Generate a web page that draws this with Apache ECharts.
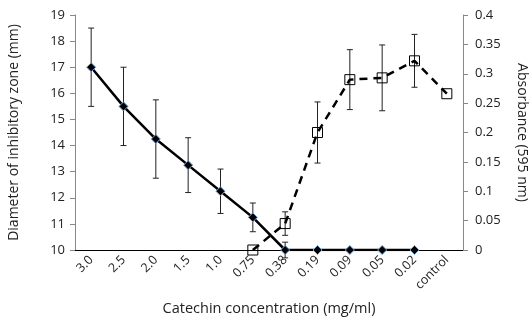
<!DOCTYPE html>
<html><head><meta charset="utf-8">
<script src="https://cdn.jsdelivr.net/npm/echarts@6/dist/echarts.min.js"></script>
<style>html,body{margin:0;padding:0;background:#fff}#c{width:532px;height:320px}</style>
</head><body><div id="c"></div>
<script>
const categories = ['3.0','2.5','2.0','1.5','1.0','0.75','0.38','0.19','0.09','0.05','0.02','control'];
const diameter = [17, 15.5, 14.25, 13.25, 12.25, 11.25, 10, 10, 10, 10, 10, null];
const diameterErr = [1.5, 1.5, 1.5, 1.05, 0.85, 0.55, 0.3, 0, 0, 0, 0, 0];
const absorbance = [null, null, null, null, null, 0, 0.045, 0.2, 0.29, 0.293, 0.322, 0.266];
const absorbanceErr = [0, 0, 0, 0, 0, 0, 0.02, 0.052, 0.051, 0.056, 0.045, 0];
const leftTicks = {min: 10, max: 19, interval: 1};
const rightTicks = {min: 0, max: 0.4, interval: 0.05};

function errData(vals, errs) {
  const out = [];
  vals.forEach((v, i) => { if (v != null && errs[i] > 0) out.push([i, v - errs[i], v + errs[i]]); });
  return out;
}
function errRender(params, api) {
  const x = api.value(0);
  const lo = api.coord([x, api.value(1)]);
  const hi = api.coord([x, api.value(2)]);
  const w = 3;
  const st = {stroke: '#222', lineWidth: 1};
  return {type: 'group', children: [
    {type: 'line', shape: {x1: lo[0], y1: lo[1], x2: hi[0], y2: hi[1]}, style: st},
    {type: 'line', shape: {x1: lo[0]-w, y1: lo[1], x2: lo[0]+w, y2: lo[1]}, style: st},
    {type: 'line', shape: {x1: hi[0]-w, y1: hi[1], x2: hi[0]+w, y2: hi[1]}, style: st}
  ]};
}
const font = '"Open Sans", "Liberation Sans", sans-serif';
const chart = echarts.init(document.getElementById('c'), null, {renderer: 'canvas'});
chart.setOption({
  animation: false,
  backgroundColor: '#fff',
  grid: {left: 75, right: 69, top: 15, bottom: 70, containLabel: false, outerBoundsMode: 'none'},
  xAxis: {
    type: 'category', data: categories, boundaryGap: true,
    axisLine: {onZero: false, lineStyle: {color: '#000', width: 1}},
    axisTick: {show: false},
    axisLabel: {rotate: 45, color: '#222', fontSize: 12.5, fontFamily: font, margin: 8, interval: 0},
    name: 'Catechin concentration (mg/ml)', nameLocation: 'middle', nameGap: 51,
    nameTextStyle: {color: '#222', fontSize: 14.5, fontFamily: font}
  },
  yAxis: [{
    type: 'value', min: leftTicks.min, max: leftTicks.max, interval: leftTicks.interval,
    axisLine: {show: true, lineStyle: {color: '#888'}},
    axisTick: {show: true, length: 5, lineStyle: {color: '#888'}},
    splitLine: {show: false},
    axisLabel: {color: '#222', fontSize: 13, fontFamily: font, margin: 10},
    name: 'Diameter of inhibitory zone (mm)', nameLocation: 'middle', nameGap: 54, nameRotate: 90,
    nameTextStyle: {color: '#222', fontSize: 14, fontFamily: font}
  }, {
    type: 'value', min: rightTicks.min, max: rightTicks.max, interval: rightTicks.interval,
    position: 'right',
    axisLine: {show: true, lineStyle: {color: '#888'}},
    axisTick: {show: true, length: 5, lineStyle: {color: '#888'}},
    splitLine: {show: false},
    axisLabel: {color: '#222', fontSize: 13, fontFamily: font, margin: 12},
    name: 'Absorbance (595 nm)', nameLocation: 'middle', nameGap: 52, nameRotate: -90,
    nameTextStyle: {color: '#222', fontSize: 14, fontFamily: font}
  }],
  series: [
    {type: 'custom', yAxisIndex: 0, renderItem: errRender, data: errData(diameter, diameterErr), z: 1,
     encode: {x: 0, y: [1, 2]}},
    {type: 'custom', yAxisIndex: 1, renderItem: errRender, data: errData(absorbance, absorbanceErr), z: 1,
     encode: {x: 0, y: [1, 2]}},
    {type: 'line', yAxisIndex: 1, data: absorbance, symbol: 'rect', symbolSize: 10, z: 3,
     lineStyle: {color: '#000', width: 2.5, type: [8, 6]},
     itemStyle: {color: 'rgba(255,255,255,0)', borderColor: '#000', borderWidth: 1}},
    {type: 'line', yAxisIndex: 0, data: diameter, symbol: 'diamond', symbolSize: 9, z: 4,
     lineStyle: {color: '#000', width: 2.5},
     itemStyle: {color: '#000', borderColor: '#6f9fd8', borderWidth: 1}}
  ]
});
</script></body></html>
